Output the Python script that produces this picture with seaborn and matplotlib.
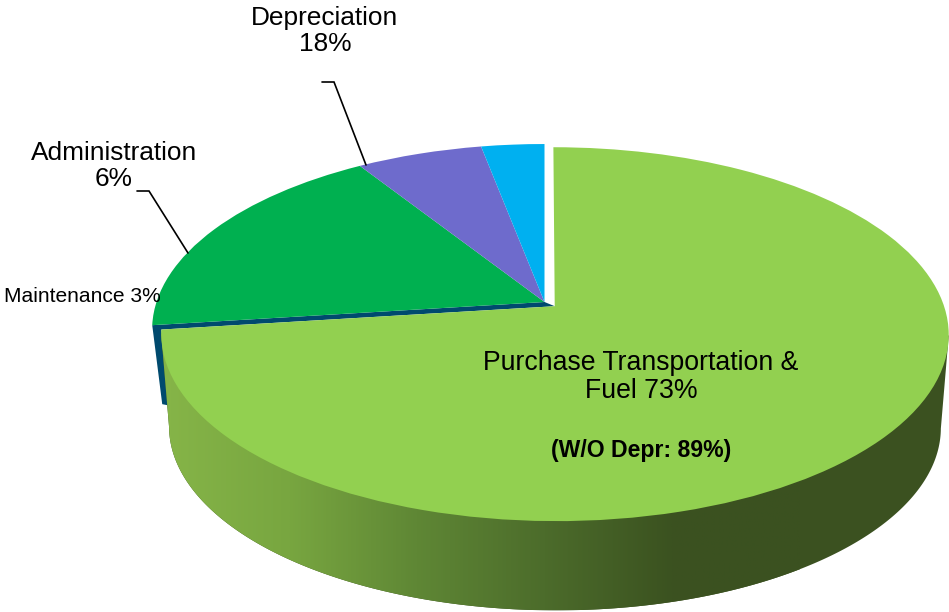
import numpy as np
import matplotlib
matplotlib.use("Agg")
import matplotlib.pyplot as plt
from matplotlib.colors import LinearSegmentedColormap
from matplotlib.patches import Polygon
from matplotlib.transforms import Transform
import seaborn as sns

categories = ["Purchase Transportation & Fuel", "Depreciation", "Administration", "Maintenance"]
shares = [73, 18, 6, 3]
explode = [0.035, 0, 0, 0]
slice_colors = ["#92D050", "#00B050", "#6E6BCC", "#00B0F0"]
cut_color = "#004A6E"
side_colors = ["#86B548", "#78A640", "#5F8735", "#4C6C2B", "#3B5220", "#3B5120"]

sns.set_theme(style="white")
plt.rcParams["font.family"] = ["Liberation Sans", "DejaVu Sans"]

W, H_PX = 949, 612
APEX = (544.5, 302.0)
A, B, K = 388.0, 181.5, 0.149


def project(uv):
    uv = np.asarray(uv, dtype=float)
    w = 1 + K * uv[..., 1]
    return np.stack([APEX[0] + A * uv[..., 0] / w, APEX[1] - B * uv[..., 1] / w], axis=-1)


class Perspective(Transform):
    input_dims = 2
    output_dims = 2
    is_separable = False
    has_inverse = False

    def transform_non_affine(self, values):
        return project(values)


fig = plt.figure(figsize=(W / 100, H_PX / 100), dpi=100, facecolor="white")
ax = fig.add_axes([0, 0, 1, 1])

wedges, _ = ax.pie(shares, colors=sns.color_palette(slice_colors), explode=explode,
                   startangle=90, counterclock=False, radius=1,
                   wedgeprops=dict(linewidth=0))
persp = Perspective() + ax.transData
for w in wedges:
    w.set_transform(persp)
    w.set_zorder(5)

# rim of the exploded slice, used for the extruded side
bis = np.deg2rad(90 - 360 * shares[0] / sum(shares) / 2)
off = explode[0] * np.array([np.cos(bis), np.sin(bis)])
t = np.linspace(0, 2 * np.pi, 721)
rim = project(np.c_[np.cos(t) + off[0], np.sin(t) + off[1]])
cx = (rim[:, 0].min() + rim[:, 0].max()) / 2
cy = (rim[:, 1].min() + rim[:, 1].max()) / 2
DEPTH, SHRINK = 93.0, 0.98
low = np.c_[cx + SHRINK * (rim[:, 0] - cx), cy + DEPTH + SHRINK * (rim[:, 1] - cy)]
left_top = rim[rim[:, 0].argmin()]
right_top = rim[rim[:, 0].argmax()]
i_l, i_r = low[:, 0].argmin(), low[:, 0].argmax()
order = np.arange(i_l, i_r + 1) if i_l < i_r else np.arange(i_l, i_r + 1 + len(low)) % len(low)
side_xy = np.vstack([left_top, low[order], right_top])

# cut face of the remaining slices
th = np.deg2rad(90 - 360 * shares[0] / sum(shares))
edge = project(np.array([np.cos(th), np.sin(th)]))
cut_apex = project(np.array([0.0, 0.0]))
green_apex = project(off)
green_edge = project(np.array([np.cos(th) + off[0], np.sin(th) + off[1]]))
cut_xy = [edge, cut_apex, green_apex, green_edge,
          green_edge + np.array([8, 76]), edge + np.array([10, 79])]
ax.add_patch(Polygon(cut_xy, closed=True, facecolor=cut_color, edgecolor="none", zorder=2))

cmap = LinearSegmentedColormap.from_list("side", side_colors)
img = ax.imshow(np.linspace(0, 1, 512)[None, :], cmap=cmap, aspect="auto",
                extent=(side_xy[:, 0].min(), 800, side_xy[:, 1].max(), side_xy[:, 1].min()),
                zorder=3)
gradient_end = ax.add_patch(Polygon(side_xy, closed=True, facecolor=side_colors[-1],
                                    edgecolor="none", zorder=2.9))
clip = Polygon(side_xy, closed=True, transform=ax.transData)
img.set_clip_path(clip)

ax.set_aspect("auto")
ax.set_xlim(0, W)
ax.set_ylim(H_PX, 0)
ax.axis("off")

tk = dict(ha="center", va="center", color="black", zorder=8)
ax.text(325, 31, "Depreciation\n18%", fontsize=18.9, linespacing=1.15, **tk)
ax.text(114, 166, "Administration\n6%", fontsize=18.9, linespacing=1.15, **tk)
ax.text(4, 297, "Maintenance 3%", fontsize=15.1, ha="left", va="center", color="black", zorder=8)
ax.text(641, 377, "Purchase Transportation &\nFuel 73%", fontsize=19.2, linespacing=1.15, **tk)
ax.text(641, 451, "(W/O Depr: 89%)", fontsize=16.6, fontweight="bold", **tk)

ax.plot([322, 334, 366], [82, 82, 165], color="black", lw=1.2, zorder=7, solid_joinstyle="miter")
ax.plot([137, 149, 188], [191, 191, 253], color="black", lw=1.2, zorder=7, solid_joinstyle="miter")

fig.savefig("out.png", dpi=100, facecolor="white")
